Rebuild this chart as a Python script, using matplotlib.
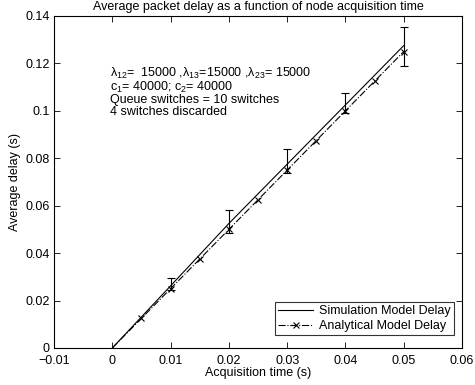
import matplotlib
matplotlib.use("Agg")
import matplotlib.pyplot as plt
import numpy as np

plt.rcParams['font.family'] = ['Liberation Sans', 'DejaVu Sans']
plt.rcParams['mathtext.fontset'] = 'custom'
plt.rcParams['mathtext.rm'] = 'Liberation Sans'
plt.rcParams['mathtext.it'] = 'Liberation Sans'

sim_x = [0.0, 0.01, 0.02, 0.03, 0.04, 0.05]
sim_y = [0.0, 0.0262, 0.0525, 0.0775, 0.1025, 0.1275]
err_low = [0.0, 0.0245, 0.0485, 0.0740, 0.0990, 0.1190]
err_high = [0.0, 0.0295, 0.0580, 0.0840, 0.1075, 0.1355]

ana_x = [0.005, 0.01, 0.015, 0.02, 0.025, 0.03, 0.035, 0.04, 0.045, 0.05]
ana_y = [0.0125, 0.025, 0.0375, 0.05, 0.0625, 0.075, 0.0875, 0.10, 0.1125, 0.125]

xticks = [-0.01, 0, 0.01, 0.02, 0.03, 0.04, 0.05, 0.06]
xticklabels = ['\u22120.01', '0', '0.01', '0.02', '0.03', '0.04', '0.05', '0.06']
yticks = [0, 0.02, 0.04, 0.06, 0.08, 0.1, 0.12, 0.14]
yticklabels = ['0', '0.02', '0.04', '0.06', '0.08', '0.1', '0.12', '0.14']

FS = 9

fig = plt.figure(figsize=(4.75, 3.85), dpi=100)
ax = fig.add_axes([54/475, 1-348/385, 408/475, 332/385])

ax.plot(sim_x, sim_y, '-', color='black', lw=0.8, label='Simulation Model Delay')
ax.plot([0] + ana_x, [0] + ana_y, '-.', color='black', lw=0.8, marker='x', ms=4, mew=0.8,
        markevery=list(range(1, len(ana_x) + 1)), label='Analytical Model Delay')
yerr = [np.array(sim_y[1:]) - np.array(err_low[1:]), np.array(err_high[1:]) - np.array(sim_y[1:])]
ax.errorbar(sim_x[1:], sim_y[1:], yerr=yerr, fmt='none', ecolor='black', elinewidth=0.8, capsize=3, capthick=0.8)

ax.set_xlim(-0.01, 0.06)
ax.set_ylim(0, 0.14)
ax.set_xticks(xticks)
ax.set_xticklabels(xticklabels)
ax.set_yticks(yticks)
ax.set_yticklabels(yticklabels)
ax.tick_params(direction='in', top=True, right=True, labelsize=FS, length=4, width=0.6)
ax.tick_params(axis='x', pad=5)
ax.tick_params(axis='y', pad=3)
for s in ax.spines.values():
    s.set_linewidth(0.8)

ax.set_title('Average packet delay as a function of node acquisition time', fontsize=FS, pad=4)
ax.set_xlabel('Acquisition time (s)', fontsize=FS, labelpad=0)
ax.set_ylabel('Average delay (s)', fontsize=FS, labelpad=3)

ax.text(110/475, 1-77/385, 'λ$_{12}$=  15000 ,λ$_{13}$=15000 ,λ$_{23}$= 15000', transform=fig.transFigure, fontsize=FS)
ax.text(110/475, 1-91/385, 'c$_1$= 40000; c$_2$= 40000', transform=fig.transFigure, fontsize=FS)
ax.text(110/475, 1-103/385, 'Queue switches = 10 switches', transform=fig.transFigure, fontsize=FS)
ax.text(110/475, 1-115/385, '4 switches discarded', transform=fig.transFigure, fontsize=FS)

leg = ax.legend(loc='lower right', bbox_to_anchor=(454/475, 1-335/385), bbox_transform=fig.transFigure,
                fontsize=FS, frameon=True, fancybox=False,
                edgecolor='black', borderpad=0.25, labelspacing=0.2, handlelength=2.8,
                handletextpad=0.5, borderaxespad=0)
leg.get_frame().set_linewidth(0.8)

fig.savefig('out.png', dpi=100)
